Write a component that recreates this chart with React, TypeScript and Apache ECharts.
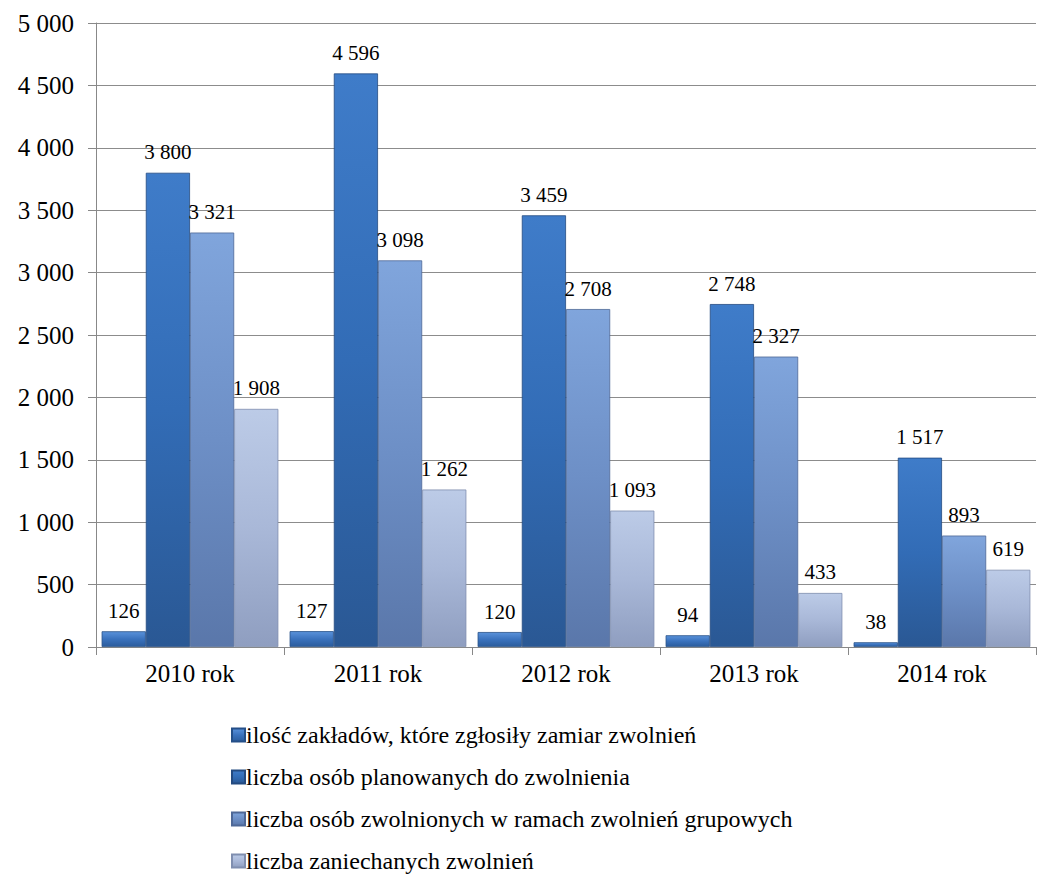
import React, { useEffect, useRef } from "react";
import * as echarts from "echarts";

const categories = ["2010 rok", "2011 rok", "2012 rok", "2013 rok", "2014 rok"];
const seriesNames = [
  "ilość zakładów, które zgłosiły zamiar zwolnień",
  "liczba osób planowanych do zwolnienia",
  "liczba osób zwolnionych w ramach zwolnień grupowych",
  "liczba zaniechanych zwolnień",
];
const zaklady = [126, 127, 120, 94, 38];
const planowane = [3800, 4596, 3459, 2748, 1517];
const zwolnione = [3321, 3098, 2708, 2327, 893];
const zaniechane = [1908, 1262, 1093, 433, 619];
const seriesData = [zaklady, planowane, zwolnione, zaniechane];

// [top, middle, bottom, border]
const palettes = [
  ["#5a92da", "#3a72bd", "#2b5c9c", "#244f88"],
  ["#3f7cc9", "#326cb6", "#2a5894", "#234a80"],
  ["#80a5dc", "#6d8fc6", "#5a77aa", "#4e6897"],
  ["#bccbe7", "#a9b8d8", "#8f9ec0", "#7f8eaf"],
];

const fmt = (v: number) =>
  String(Math.round(v)).replace(/\B(?=(\d{3})+(?!\d))/g, " ");

const FONT = "Liberation Serif, Times New Roman, serif";

export default function App() {
  const ref = useRef<HTMLDivElement>(null);
  useEffect(() => {
    if (!ref.current) return;
    const chart = echarts.init(ref.current, null, { renderer: "svg" });
    chart.setOption({
      animation: false,
      backgroundColor: "#ffffff",
      textStyle: { fontFamily: FONT },
      grid: { left: 96, right: 1, top: 23, bottom: 235, containLabel: false },
      legend: {
        orient: "vertical",
        left: 226,
        top: 718,
        height: 160,
        itemWidth: 13,
        itemHeight: 13,
        itemGap: 18,
        icon: "rect",
        textStyle: { fontFamily: FONT, fontSize: 24, color: "#000", padding: [0, 0, 0, -4] },
        data: seriesNames,
      },
      xAxis: {
        type: "category",
        data: categories,
        axisLine: { lineStyle: { color: "#888", width: 1 } },
        axisTick: { show: true, length: 8, lineStyle: { color: "#888" } },
        axisLabel: { fontFamily: FONT, fontSize: 25, color: "#000", margin: 14 },
      },
      yAxis: {
        type: "value",
        min: 0,
        max: 5000,
        interval: 500,
        axisLine: { show: true, lineStyle: { color: "#888" } },
        axisTick: { show: true, length: 8, lineStyle: { color: "#888" } },
        splitLine: { lineStyle: { color: "#8c8c8c", width: 1 } },
        axisLabel: {
          fontFamily: FONT,
          fontSize: 25,
          color: "#000",
          margin: 22,
          formatter: (v: number) => fmt(v),
        },
      },
      series: seriesData.map((d, i) => ({
        name: seriesNames[i],
        type: "bar",
        data: d,
        barGap: "0%",
        barCategoryGap: "6%",
        itemStyle: {
          color: new echarts.graphic.LinearGradient(0, 0, 0, 1, [
            { offset: 0, color: palettes[i][0] },
            { offset: 0.5, color: palettes[i][1] },
            { offset: 1, color: palettes[i][2] },
          ]),
          borderColor: palettes[i][3],
          borderWidth: 0.8,
        },
        label: {
          show: true,
          position: "top",
          distance: 10,
          fontFamily: FONT,
          fontSize: 21,
          color: "#000",
          formatter: (p: any) => fmt(p.value),
        },
      })),
    });
    return () => chart.dispose();
  }, []);
  return (
    <div
      ref={ref}
      style={{ position: "fixed", left: 0, top: 0, width: 1037, height: 882 }}
    />
  );
}
